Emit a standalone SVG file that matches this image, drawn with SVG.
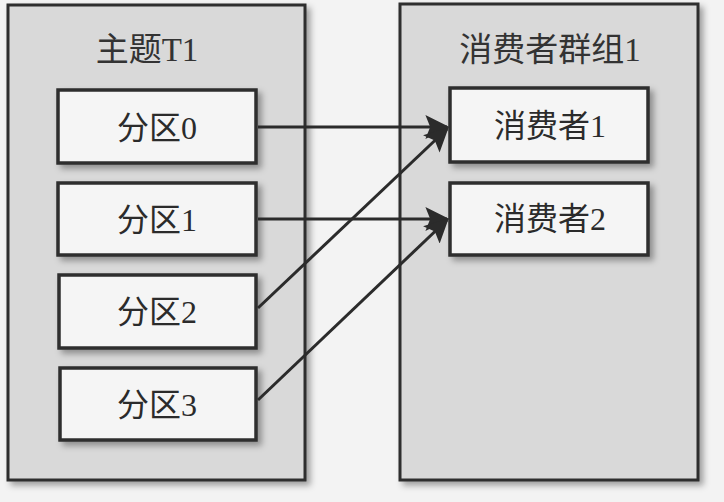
<svg xmlns="http://www.w3.org/2000/svg" width="724" height="502" viewBox="0 0 724 502">
<defs>
<style>
.bg{fill:#f3f3f3}
.cont{fill:#d9d9d9;stroke:#2e2e2e;stroke-width:3}
.box{fill:#f5f5f5;stroke:#2e2e2e;stroke-width:3.5}
.title{font-family:"Liberation Serif","Noto Sans CJK SC",serif;font-size:33px;fill:#333;text-anchor:middle}
.lbl{font-family:"Liberation Serif","Noto Sans CJK SC",serif;font-size:32px;fill:#2b2b2b;text-anchor:middle}
.conn{stroke:#2b2b2b;stroke-width:3;fill:none;marker-end:url(#ah)}
</style>
<filter id="sh" x="-10%" y="-10%" width="130%" height="130%">
<feDropShadow dx="4" dy="4" stdDeviation="3" flood-color="#000" flood-opacity="0.35"/>
</filter>
<marker id="ah" viewBox="0 0 10 10" refX="9" refY="5" markerWidth="24" markerHeight="24" markerUnits="userSpaceOnUse" orient="auto">
<path d="M0,0 L10,5 L0,10 L2,5 Z" fill="#2b2b2b"/>
</marker>
</defs>
<rect class="bg" x="0" y="0" width="724" height="502"/>
<g id="topic">
<rect class="cont" x="8" y="5" width="297" height="475" filter="url(#sh)"/>
<text class="title" x="147" y="61">主题T1</text>
</g>
<g id="group">
<rect class="cont" x="400" y="4" width="298" height="476" filter="url(#sh)"/>
<text class="title" x="550" y="61">消费者群组1</text>
</g>
<g id="p0">
<rect class="box" x="58" y="90" width="198" height="73" filter="url(#sh)"/>
<text class="lbl" x="157" y="139">分区0</text>
</g>
<g id="p1">
<rect class="box" x="58" y="183" width="198" height="72" filter="url(#sh)"/>
<text class="lbl" x="157" y="231">分区1</text>
</g>
<g id="p2">
<rect class="box" x="59" y="275" width="197" height="73" filter="url(#sh)"/>
<text class="lbl" x="157" y="323">分区2</text>
</g>
<g id="p3">
<rect class="box" x="60" y="368" width="196" height="72" filter="url(#sh)"/>
<text class="lbl" x="157" y="416">分区3</text>
</g>
<g id="c1">
<rect class="box" x="450" y="88" width="198" height="74" filter="url(#sh)"/>
<text class="lbl" x="550" y="137">消费者1</text>
</g>
<g id="c2">
<rect class="box" x="450" y="183" width="198" height="72" filter="url(#sh)"/>
<text class="lbl" x="550" y="230">消费者2</text>
</g>
<g id="connectors">
<line class="conn" x1="258" y1="127" x2="447" y2="127"/>
<line class="conn" x1="258" y1="219" x2="447" y2="219"/>
<line class="conn" x1="258" y1="308" x2="447" y2="129"/>
<line class="conn" x1="258" y1="400" x2="447" y2="220"/>
</g>
</svg>
